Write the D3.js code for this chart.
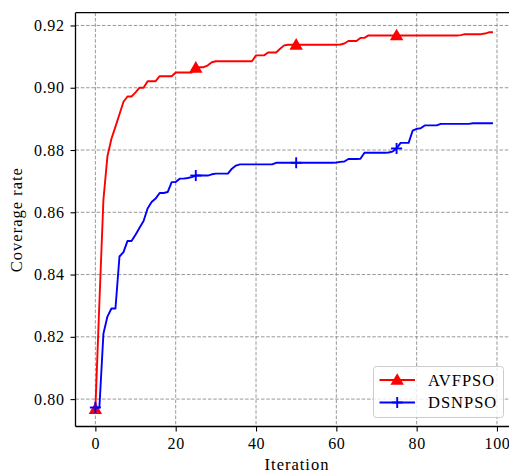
<!DOCTYPE html>
<html><head><meta charset="utf-8">
<script src="https://cdn.jsdelivr.net/npm/d3@7"></script>
<style>
html,body{margin:0;padding:0;background:#fff;}
svg{display:block;}
</style></head>
<body>
<svg id="chart" width="509" height="475"></svg>
<script>
const iterations = d3.range(0, 100);
const avfpso = [
  0.7968,0.8310,0.8640,0.8780,0.8836,0.8875,0.8915,0.8955,0.8972,0.8972,
  0.8985,0.9000,0.9000,0.9021,0.9021,0.9021,0.9037,0.9037,0.9037,0.9037,
  0.9049,0.9049,0.9049,0.9049,0.9049,0.9064,0.9066,0.9066,0.9072,0.9082,
  0.9085,0.9085,0.9085,0.9085,0.9085,0.9085,0.9085,0.9085,0.9085,0.9085,
  0.9104,0.9104,0.9104,0.9113,0.9113,0.9113,0.9125,0.9136,0.9138,0.9138,
  0.9138,0.9138,0.9138,0.9138,0.9138,0.9138,0.9138,0.9138,0.9138,0.9138,
  0.9138,0.9139,0.9142,0.9150,0.9150,0.9150,0.9160,0.9160,0.9168,0.9168,
  0.9168,0.9168,0.9168,0.9168,0.9168,0.9168,0.9168,0.9168,0.9168,0.9168,
  0.9168,0.9168,0.9168,0.9168,0.9168,0.9168,0.9168,0.9168,0.9168,0.9168,
  0.9168,0.9169,0.9172,0.9172,0.9172,0.9172,0.9172,0.9174,0.9178,0.9178
];
const dsnpso = [
  0.7973,0.7973,0.8210,0.8265,0.8291,0.8291,0.8458,0.8472,0.8508,0.8508,
  0.8528,0.8550,0.8572,0.8612,0.8633,0.8644,0.8662,0.8662,0.8665,0.8697,
  0.8697,0.8708,0.8708,0.8710,0.8713,0.8718,0.8718,0.8718,0.8718,0.8722,
  0.8724,0.8724,0.8724,0.8724,0.8740,0.8750,0.8754,0.8754,0.8754,0.8754,
  0.8754,0.8754,0.8754,0.8754,0.8754,0.8759,0.8759,0.8759,0.8759,0.8759,
  0.8759,0.8759,0.8759,0.8759,0.8759,0.8759,0.8759,0.8759,0.8759,0.8759,
  0.8760,0.8762,0.8763,0.8771,0.8771,0.8771,0.8772,0.8791,0.8791,0.8791,
  0.8791,0.8791,0.8791,0.8792,0.8795,0.8805,0.8823,0.8823,0.8823,0.8862,
  0.8868,0.8870,0.8879,0.8879,0.8879,0.8879,0.8884,0.8884,0.8884,0.8884,
  0.8884,0.8884,0.8884,0.8884,0.8886,0.8886,0.8886,0.8886,0.8886,0.8886
];
const xTicks = [0, 20, 40, 60, 80, 100];
const yTicks = [0.80, 0.82, 0.84, 0.86, 0.88, 0.90, 0.92];
const seriesNames = ["AVFPSO", "DSNPSO"];
const markEvery = 25;

const FONT = "'Liberation Serif', 'DejaVu Serif', 'Times New Roman', serif";
const svg = d3.select("#chart");
const L = 75.5, T = 12.7, B = 426.5;
const x = d3.scaleLinear().domain([-4.95, 103.95]).range([L, L + 108.9 * 4.016]);
const y = d3.scaleLinear().domain([0.7912, 0.9241]).range([B, T]);
const R = x.range()[1];

function styleText(sel, size, ls) {
  sel.style("font-family", FONT).style("font-size", size).style("letter-spacing", ls).attr("fill", "#000");
}

// grid
const grid = svg.append("g");
grid.selectAll(".gx").data(xTicks).join("line")
  .attr("x1", d => x(d)).attr("x2", d => x(d)).attr("y1", T).attr("y2", B)
  .attr("stroke", "#8c8c8c").attr("stroke-width", 0.9).attr("stroke-dasharray", "3.5,1.8");
grid.selectAll(".gy").data(yTicks).join("line")
  .attr("x1", L).attr("x2", R).attr("y1", d => y(d)).attr("y2", d => y(d))
  .attr("stroke", "#8c8c8c").attr("stroke-width", 0.9).attr("stroke-dasharray", "3.5,1.8");

// lines
const line = d3.line().x((d, i) => x(iterations[i])).y(d => y(d));
svg.append("path").datum(avfpso).attr("d", line).attr("fill", "none")
  .attr("stroke", "#ff0000").attr("stroke-width", 1.9).attr("stroke-linejoin", "round");
const tri = d3.symbol().type(d3.symbolTriangle).size(78);
svg.append("g").selectAll("path").data(iterations.filter(i => i % markEvery === 0)).join("path")
  .attr("d", tri).attr("transform", i => `translate(${x(i)},${y(avfpso[i]) + 1})`)
  .attr("fill", "#ff0000");

svg.append("path").datum(dsnpso).attr("d", line).attr("fill", "none")
  .attr("stroke", "#0000ff").attr("stroke-width", 1.9).attr("stroke-linejoin", "round");
function plus(g, cx, cy, s) {
  g.append("line").attr("x1", cx - s).attr("x2", cx + s).attr("y1", cy).attr("y2", cy)
    .attr("stroke", "#0000ff").attr("stroke-width", 1.9);
  g.append("line").attr("x1", cx).attr("x2", cx).attr("y1", cy - s).attr("y2", cy + s)
    .attr("stroke", "#0000ff").attr("stroke-width", 1.9);
}
const pg = svg.append("g");
iterations.filter(i => i % markEvery === 0).forEach(i => plus(pg, x(i), y(dsnpso[i]), 5.5));

// axes
const xAxis = d3.axisBottom(x).tickValues(xTicks).tickSize(5).tickPadding(6).tickFormat(d3.format("d"));
const gx = svg.append("g").attr("transform", `translate(0,${B})`).call(xAxis);
gx.select(".domain").remove();
gx.selectAll("line").attr("stroke-width", 1.1);
styleText(gx.selectAll("text"), "16px", "0.6px");

const yAxis = d3.axisLeft(y).tickValues(yTicks).tickSize(5).tickPadding(6).tickFormat(d3.format(".2f"));
const gy = svg.append("g").attr("transform", `translate(${L},0)`).call(yAxis);
gy.select(".domain").remove();
gy.selectAll("line").attr("stroke-width", 1.1);
styleText(gy.selectAll("text"), "16px", "0.6px");

// spines
[[L, L, T, B], [L, R, B, B], [L, R, T, T], [R, R, T, B]].forEach(s =>
  svg.append("line").attr("x1", s[0]).attr("x2", s[1]).attr("y1", s[2]).attr("y2", s[3])
    .attr("stroke", "#000").attr("stroke-width", 1.3));

// axis labels
styleText(svg.append("text").attr("x", 297).attr("y", 470).attr("text-anchor", "middle").text("Iteration"), "16.5px", "1px");
styleText(svg.append("text").attr("transform", `translate(22,${(T + B) / 2}) rotate(-90)`)
  .attr("text-anchor", "middle").text("Coverage rate"), "16.5px", "1px");

// legend
const lg = svg.append("g");
lg.append("rect").attr("x", 373.5).attr("y", 366.5).attr("width", 130).attr("height", 51)
  .attr("rx", 3).attr("fill", "#fff").attr("fill-opacity", 0.8).attr("stroke", "#cccccc").attr("stroke-width", 1);
const rows = [380, 402.5];
lg.append("line").attr("x1", 379.5).attr("x2", 415).attr("y1", rows[0]).attr("y2", rows[0]).attr("stroke", "#ff0000").attr("stroke-width", 1.9);
lg.append("path").attr("d", tri).attr("transform", `translate(397.2,${rows[0] + 1})`).attr("fill", "#ff0000");
lg.append("line").attr("x1", 379.5).attr("x2", 415).attr("y1", rows[1]).attr("y2", rows[1]).attr("stroke", "#0000ff").attr("stroke-width", 1.9);
plus(lg, 397.2, rows[1], 5.5);
seriesNames.forEach((n, k) => {
  styleText(lg.append("text").attr("x", 428).attr("y", rows[k] + 5.5).text(n), "16.5px", "1px");
});
</script>
</body></html>
